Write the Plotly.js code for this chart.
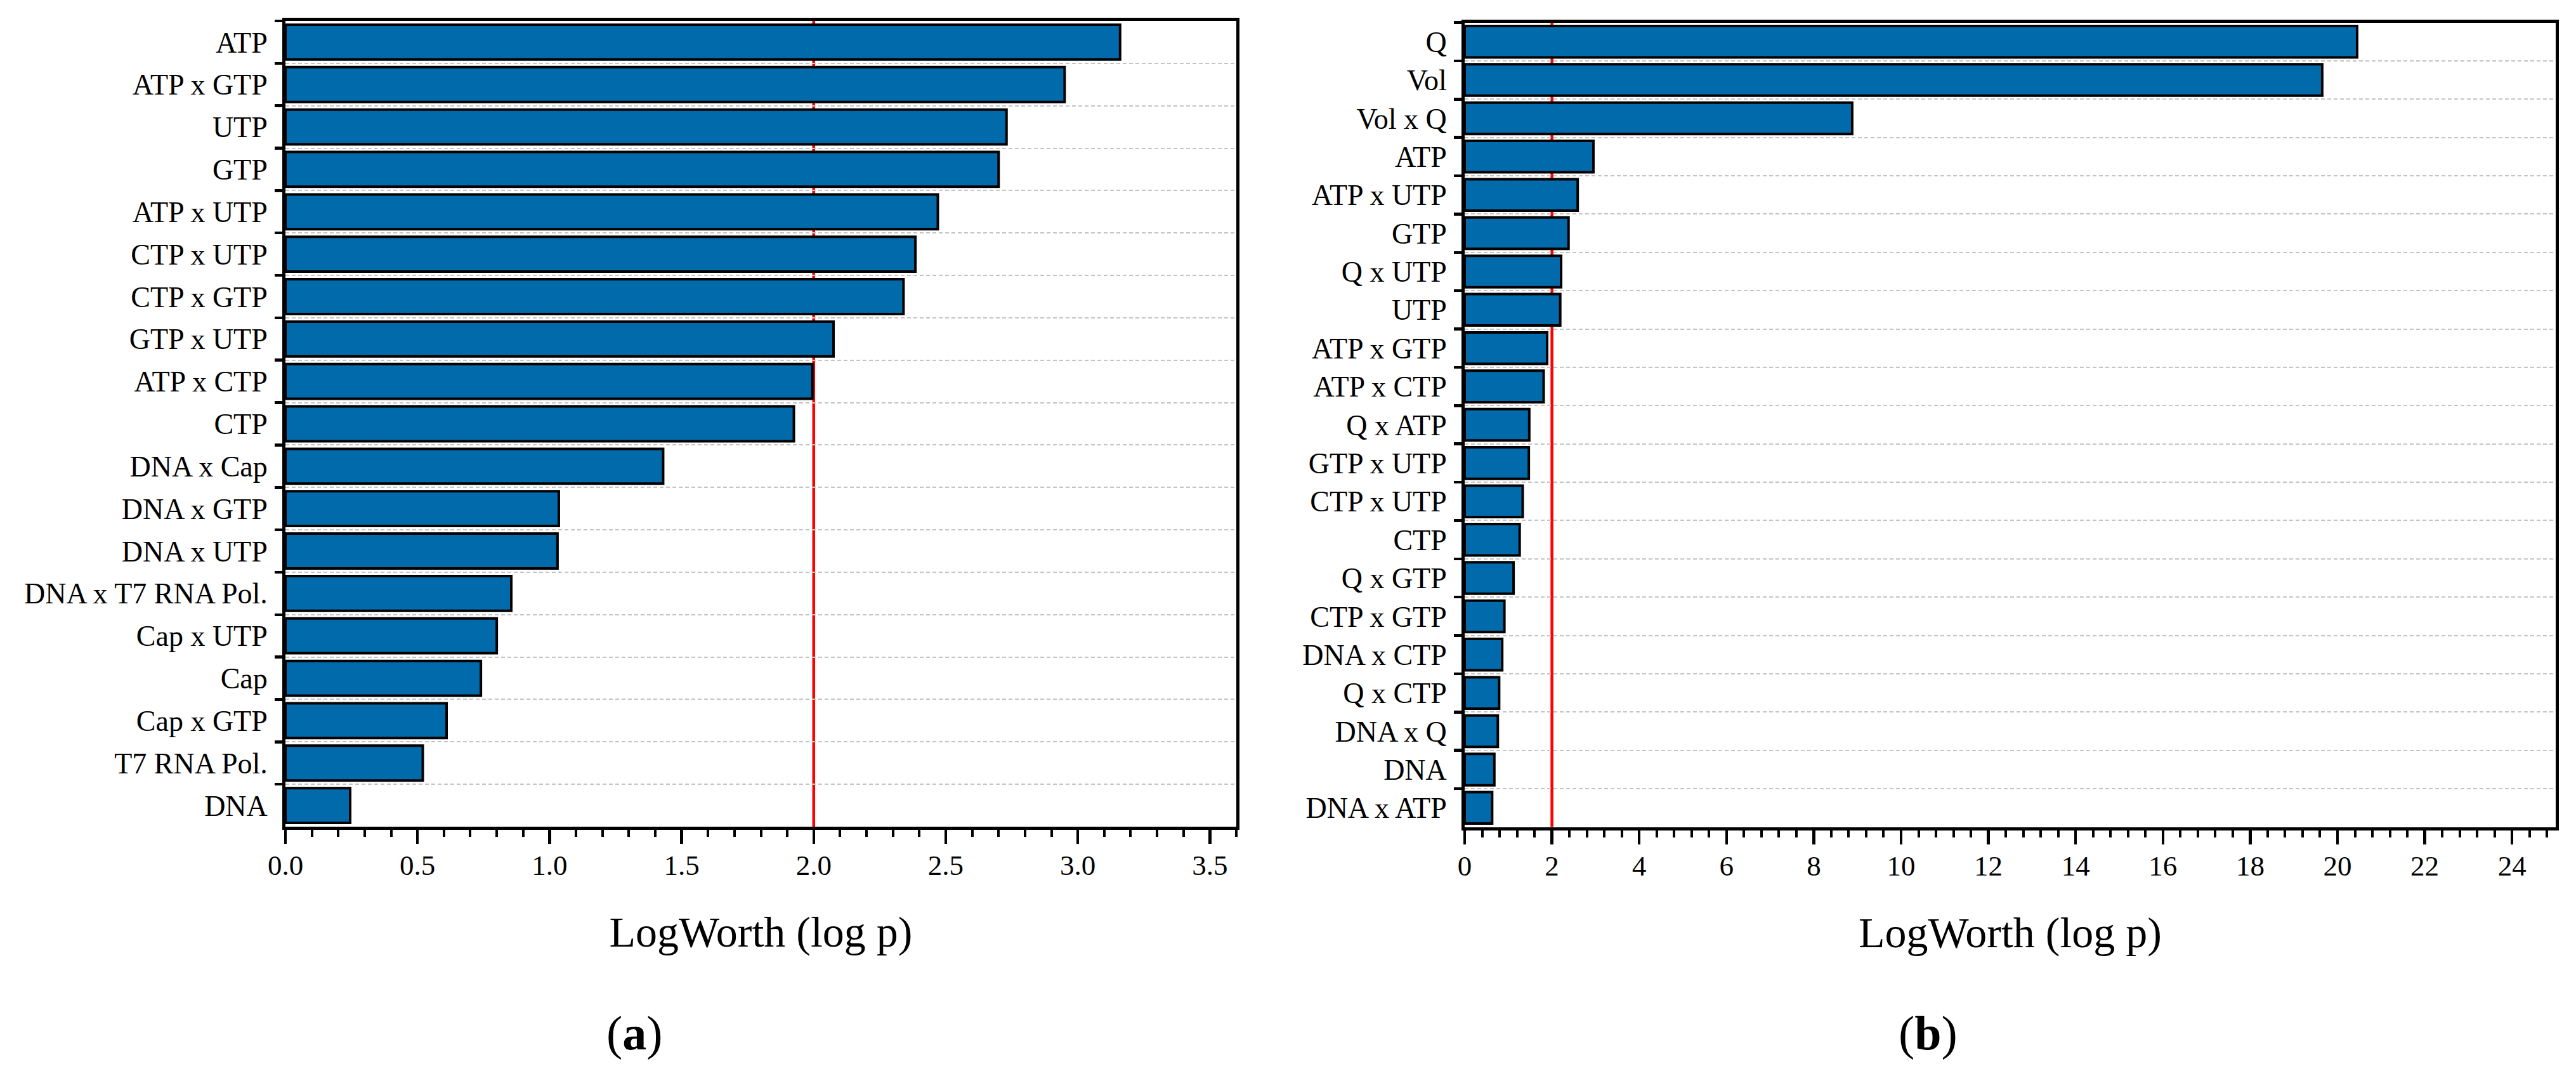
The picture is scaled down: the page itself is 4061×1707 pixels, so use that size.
<!DOCTYPE html>
<html>
<head>
<meta charset="utf-8">
<script src="https://cdn.plot.ly/plotly-3.0.1.min.js"></script>
<style>
  html, body { margin: 0; padding: 0; background: #ffffff; }
  #chart { width: 4061px; height: 1707px; }
</style>
</head>
<body>
<div id="chart"></div>
<script>
// ---- Data ----
const categoriesA = ['ATP', 'ATP x GTP', 'UTP', 'GTP', 'ATP x UTP', 'CTP x UTP', 'CTP x GTP',
  'GTP x UTP', 'ATP x CTP', 'CTP', 'DNA x Cap', 'DNA x GTP', 'DNA x UTP', 'DNA x T7 RNA Pol.',
  'Cap x UTP', 'Cap', 'Cap x GTP', 'T7 RNA Pol.', 'DNA'];
const logWorthA = [3.16, 2.95, 2.73, 2.70, 2.47, 2.385, 2.34, 2.075, 1.995, 1.925, 1.43, 1.035,
  1.03, 0.855, 0.80, 0.74, 0.61, 0.52, 0.245];

const categoriesB = ['Q', 'Vol', 'Vol x Q', 'ATP', 'ATP x UTP', 'GTP', 'Q x UTP', 'UTP',
  'ATP x GTP', 'ATP x CTP', 'Q x ATP', 'GTP x UTP', 'CTP x UTP', 'CTP', 'Q x GTP', 'CTP x GTP',
  'DNA x CTP', 'Q x CTP', 'DNA x Q', 'DNA', 'DNA x ATP'];
const logWorthB = [20.45, 19.65, 8.88, 2.95, 2.59, 2.38, 2.21, 2.19, 1.89, 1.81, 1.48, 1.47,
  1.33, 1.26, 1.12, 0.91, 0.86, 0.79, 0.76, 0.68, 0.63];

const thresholdA = 2;
const thresholdB = 2;
const axisTitle = 'LogWorth (log p)';
const panelLabels = ['(<b>a</b>)', '(<b>b</b>)'];

// ---- Styling ----
const FONT = 'Liberation Serif, Times New Roman, serif';
const BLUE = '#006aab';
const GRID = '#c4c4c4';

function barTrace(cats, vals, xa, ya) {
  return {
    type: 'bar', orientation: 'h', x: vals, y: cats, xaxis: xa, yaxis: ya,
    marker: { color: BLUE, line: { color: '#000000', width: 4 } },
    hoverinfo: 'x+y', showlegend: false
  };
}

function xAxis(domain, range, dtick, minorDtick, fmt, anchor) {
  return {
    domain: domain, range: range, anchor: anchor, fixedrange: true,
    showline: true, linecolor: '#000', linewidth: 5, mirror: true,
    showgrid: false, zeroline: false,
    ticks: 'outside', ticklen: 22, tickwidth: 4.5, tickcolor: '#000',
    dtick: dtick, tick0: 0, tickformat: fmt,
    minor: { dtick: minorDtick, tick0: 0, ticks: 'outside', ticklen: 11, tickwidth: 4, tickcolor: '#000', showgrid: false },
    tickfont: { family: FONT, size: 45, color: '#000' },
    ticklabelstandoff: -5,
    title: { text: axisTitle, font: { family: FONT, size: 68, color: '#000' }, standoff: 58 }
  };
}

function yAxis(domain, anchor) {
  return {
    domain: domain, anchor: anchor, type: 'category', autorange: 'reversed', fixedrange: true,
    showline: true, linecolor: '#000', linewidth: 5, mirror: true,
    tickson: 'boundaries', ticks: 'outside', ticklen: 12, tickwidth: 4.5, tickcolor: '#000',
    showgrid: true, gridcolor: GRID, gridwidth: 2, griddash: '6px,4px',
    zeroline: false,
    tickfont: { family: FONT, size: 46, color: '#000' },
    ticklabelstandoff: 14
  };
}

const data = [
  barTrace(categoriesA, logWorthA, 'x', 'y'),
  barTrace(categoriesB, logWorthB, 'x2', 'y2')
];

const layout = {
  width: 4061, height: 1707,
  margin: { l: 0, r: 0, t: 0, b: 0, pad: 0 },
  paper_bgcolor: '#ffffff', plot_bgcolor: '#ffffff',
  bargap: 0.18,
  font: { family: FONT, color: '#000' },
  xaxis: xAxis([450 / 4061, 1949 / 4061], [0, 3.6], 0.5, 0.1, '.1f', 'y'),
  yaxis: yAxis([1 - 1303 / 1707, 1 - 33 / 1707], 'x'),
  xaxis2: xAxis([2309 / 4061, 4029 / 4061], [0, 25], 2, 0.4, 'd', 'y2'),
  yaxis2: yAxis([1 - 1303.5 / 1707, 1 - 35.5 / 1707], 'x2'),
  shapes: [
    { type: 'line', xref: 'x', yref: 'paper', x0: thresholdA, x1: thresholdA,
      y0: 1 - 1303 / 1707, y1: 1 - 33 / 1707,
      line: { color: '#ff0000', width: 4.5 }, layer: 'below' },
    { type: 'line', xref: 'x2', yref: 'paper', x0: thresholdB, x1: thresholdB,
      y0: 1 - 1303.5 / 1707, y1: 1 - 35.5 / 1707,
      line: { color: '#ff0000', width: 4.5 }, layer: 'below' }
  ],
  annotations: [
    { text: panelLabels[0], xref: 'paper', yref: 'paper', x: 1000 / 4061, y: 1 - 1628 / 1707,
      xanchor: 'center', yanchor: 'middle', showarrow: false, font: { family: FONT, size: 76, color: '#000' } },
    { text: panelLabels[1], xref: 'paper', yref: 'paper', x: 3039 / 4061, y: 1 - 1628 / 1707,
      xanchor: 'center', yanchor: 'middle', showarrow: false, font: { family: FONT, size: 76, color: '#000' } }
  ]
};

Plotly.newPlot('chart', data, layout, { staticPlot: true, displayModeBar: false });
</script>
</body>
</html>
